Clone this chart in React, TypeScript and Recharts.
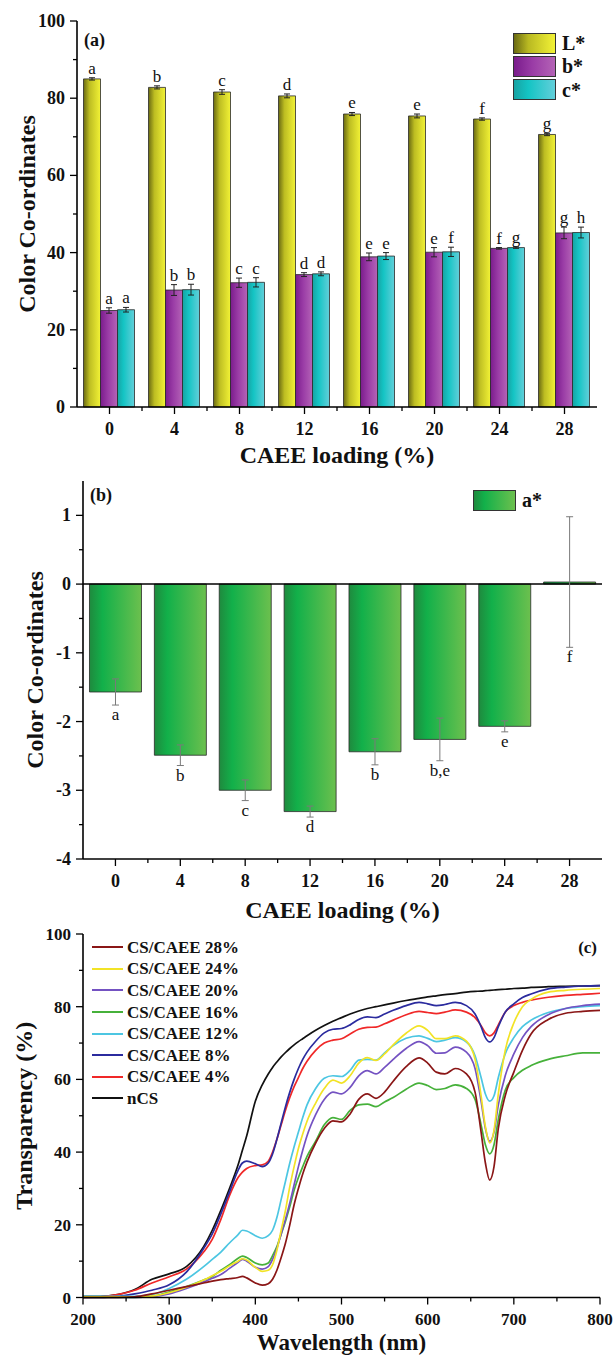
import React from "react";
import {
  BarChart,
  Bar,
  LineChart,
  Line,
  XAxis,
  YAxis,
  ErrorBar,
  LabelList,
  Legend,
  ReferenceLine,
} from "recharts";

const FONT = "'Liberation Serif', 'Times New Roman', serif";
const W = 614;

// ---- (a) L*, b*, c* vs CAEE loading
const loadings = ["0", "4", "8", "12", "16", "20", "24", "28"];
const lStar = [85.0, 82.8, 81.6, 80.6, 75.9, 75.4, 74.6, 70.6];
const lStarErr = [0.3, 0.4, 0.6, 0.5, 0.4, 0.5, 0.3, 0.3];
const lStarLetters = ["a", "b", "c", "d", "e", "e", "f", "g"];
const bStar = [25.0, 30.3, 32.2, 34.3, 38.9, 40.1, 41.1, 45.1];
const bStarErr = [0.7, 1.4, 1.2, 0.5, 1.0, 1.2, 0.2, 1.5];
const bStarLetters = ["a", "b", "c", "d", "e", "e", "f", "g"];
const cStar = [25.2, 30.4, 32.3, 34.5, 39.1, 40.2, 41.3, 45.2];
const cStarErr = [0.6, 1.4, 1.2, 0.5, 0.9, 1.2, 0.2, 1.4];
const cStarLetters = ["a", "b", "c", "d", "e", "f", "g", "h"];

// ---- (b) a*
const aStar = [-1.57, -2.49, -3.0, -3.31, -2.44, -2.26, -2.07, 0.03];
const aStarErr = [0.19, 0.15, 0.15, 0.08, 0.19, 0.31, 0.08, 0.95];
const aStarLetters = ["a", "b", "c", "d", "b", "b,e", "e", "f"];

// ---- (c) transparency spectra
const wavelengths = [
  200, 220, 240, 260, 280, 300, 320, 340, 350, 360, 370, 380, 385, 390, 400,
  408, 415, 420, 425, 430, 435, 440, 445, 450, 455, 460, 470, 480, 490, 500,
  510, 520, 530, 540, 550, 560, 575, 590, 600, 610, 620, 632, 645, 655, 662,
  667, 672, 677, 682, 690, 700, 710, 720, 740, 760, 780, 800,
];
const nCS = [
  0.3, 0.3, 0.8, 2.2, 5, 6.5, 8.5, 14, 18.5, 24, 30, 36.5, 40.5, 44.5, 54,
  58.5, 61.5, 63.3, 64.8, 66.2, 67.4, 68.5, 69.5, 70.4, 71.2, 72, 73.5, 74.8, 76, 77,
  78, 78.8, 79.5, 80, 80.5, 81, 81.7, 82.3, 82.7, 83, 83.3, 83.6, 84, 84.2, 84.3,
  84.4, 84.5, 84.6, 84.7, 84.8, 85, 85.1, 85.3, 85.5, 85.6, 85.7, 85.8,
];
const cs4 = [
  0, 0.2, 0.8, 2, 4, 5.7, 7.8, 12.5, 16, 21.5, 28, 33, 34.5, 35.5, 36.3,
  36.5, 37.5, 40, 43.5, 47.5, 51.5, 55, 58, 60.5, 63, 65, 68, 70, 70.8, 71.2,
  72.5, 73.8, 74.3, 74.4, 75.3, 76.3, 77.8, 78.7, 78.4, 78.1, 78.5, 79.1, 78.5, 77, 74.8,
  72.8, 72, 72.8, 75, 78.5, 80.3, 81.2, 81.8, 82.6, 83.1, 83.4, 83.7,
];
const cs8 = [
  0, 0, 0.3, 1, 2, 3.5, 7, 13.5, 17.5, 23, 29, 35, 37, 37.5, 36.8,
  36, 37, 39.5, 43.5, 48, 52.5, 56.5, 60, 63, 65.5, 67.5, 70.5, 72.8, 73.8, 74,
  75, 76.5, 77.2, 77, 78, 79, 80.3, 81.2, 80.8, 80.3, 80.6, 81.2, 80.3, 78, 74.5,
  71.5, 70.3, 71.5, 74.5, 78.5, 80.8, 82.5, 83.5, 84.9, 85.4, 85.7, 85.8,
];
const cs12 = [
  0.3, 0.3, 0.3, 0.3, 0.8, 2.5, 5, 8.5, 10.5, 12.5, 15, 17.3, 18.5, 18.3, 17,
  16.3, 17, 18.5, 22, 27, 32, 37, 41.5, 45.5, 49.5, 53, 57.5, 60.3, 61, 60.8,
  62.5, 65.3, 65.5, 65.3, 67.3, 69.3, 71.3, 72, 71.3, 70.4, 70.8, 71.5, 70.3, 66.5, 60.5,
  56, 54, 55.5, 60.5, 67, 71.5, 74.5, 76.3, 78.4, 79.5, 80, 80.3,
];
const cs16 = [
  0, 0, 0, 0, 0.3, 1.5, 3, 4.8, 5.8, 7.5, 9, 10.8, 11.4, 11, 9.5,
  9, 9.5, 11.5, 14, 17.5, 21, 25, 29.5, 33, 36, 38.8, 43, 47.5, 49.5, 49,
  51.5, 53, 53.2, 52.5, 53.8, 55, 57.3, 59, 58.3, 57.2, 57.5, 58.5, 57.5, 54.5, 47.5,
  42, 39.5, 42, 49, 57, 60.5, 62.5, 63.8, 65.5, 66.5, 67.3, 67.3,
];
const cs20 = [
  0, 0, 0, 0, 0.2, 1, 2.5, 4.3, 5.3, 6.3, 8, 9.7, 10.5, 10, 8.3,
  7.8, 8.5, 10.5, 13.5, 17.5, 21.5, 26, 31, 36, 40.5, 44.5, 50.3, 54.5, 56.5, 56,
  57.8, 61, 62.4, 61.5, 63.3, 65.5, 68.5, 70.4, 69.3, 67.2, 67.3, 68.9, 67.5, 63, 54,
  46.5, 43, 45.5, 53, 61, 67, 71.5, 74.5, 77.8, 79.5, 80.3, 80.7,
];
const cs24 = [
  0.2, 0.2, 0.2, 0.2, 0.4, 1.3, 2.8, 4.8, 6, 7.2, 8.7, 10, 10.7, 10.3, 8.3,
  7.2, 7.5, 9, 13, 18.5, 24, 30.5, 36, 41, 45, 48.5, 53.5, 57.5, 59.8, 59,
  61, 64.5, 66, 65.2, 67, 69.5, 72.7, 74.7, 73.5, 71.2, 71.2, 72, 70.5, 65.5, 55.5,
  47, 42.5, 46, 56, 68, 75.5, 80, 82, 84, 84.5, 84.8, 85,
];
const cs28 = [
  0, 0, 0, 0.2, 1, 2, 3, 4, 4.5, 4.9, 5.2, 5.5, 5.8, 5.4, 4,
  3.4, 3.8, 5, 7.5, 11, 15, 20, 25.5, 30, 34, 37.3, 42.5, 46.5, 48.6, 48.3,
  50.5, 54.5, 56, 54.8, 56.5, 59.5, 63.5, 65.9, 64.5, 62, 61.5, 63, 61.5, 56.5, 45.5,
  37, 32.3, 36, 46.5, 55.5, 62, 68, 72.5, 76.5, 78.2, 78.7, 79,
];

const spectra = [
  { key: "cs28", name: "CS/CAEE 28%", color: "#8a1616", values: cs28 },
  { key: "cs24", name: "CS/CAEE 24%", color: "#f2e326", values: cs24 },
  { key: "cs20", name: "CS/CAEE 20%", color: "#7452c2", values: cs20 },
  { key: "cs16", name: "CS/CAEE 16%", color: "#46b13a", values: cs16 },
  { key: "cs12", name: "CS/CAEE 12%", color: "#4cc6e2", values: cs12 },
  { key: "cs8", name: "CS/CAEE 8%", color: "#2b2b9e", values: cs8 },
  { key: "cs4", name: "CS/CAEE 4%", color: "#f02828", values: cs4 },
  { key: "ncs", name: "nCS", color: "#111111", values: nCS },
];

const rowsA = loadings.map((l, i) => ({
  loading: l,
  L: lStar[i], Lerr: lStarErr[i], Llet: lStarLetters[i],
  b: bStar[i], berr: bStarErr[i], blet: bStarLetters[i],
  c: cStar[i], cerr: cStarErr[i], clet: cStarLetters[i],
}));
const rowsB = loadings.map((l, i) => ({
  loading: l, a: aStar[i], aerr: aStarErr[i], alet: aStarLetters[i],
}));
const rowsC = wavelengths.map((wl, i) => {
  const row: any = { wl };
  spectra.forEach((s) => (row[s.key] = s.values[i]));
  return row;
});

const txt = (size: number, weight = 700): React.CSSProperties => ({
  fontFamily: FONT,
  fontWeight: weight,
  fontSize: size,
  fill: "#111",
});
const AXIS = { stroke: "#000", strokeWidth: 1.6 };

// tick helpers: major ticks carry labels, minor ones only a short line
const catTick = (band: number, n: number) => (props: any) => {
  const { x, y, payload, index } = props;
  return (
    <g>
      <line x1={x} x2={x} y1={y} y2={y + 7} stroke="#000" strokeWidth={1.3} />
      {index < n - 1 && (
        <line x1={x + band / 2} x2={x + band / 2} y1={y} y2={y + 4} stroke="#000" strokeWidth={1.3} />
      )}
      <text x={x} y={y + 27.5} textAnchor="middle" style={txt(18)}>
        {payload.value}
      </text>
    </g>
  );
};
const numXTick = (majors: number[], size: number) => (props: any) => {
  const { x, y, payload } = props;
  const major = majors.includes(payload.value);
  return (
    <g>
      <line x1={x} x2={x} y1={y} y2={y + (major ? 7 : 4)} stroke="#000" strokeWidth={1.3} />
      {major && (
        <text x={x} y={y + 27} textAnchor="middle" style={txt(size)}>
          {payload.value}
        </text>
      )}
    </g>
  );
};
const numYTick = (majors: number[], size: number) => (props: any) => {
  const { x, y, payload } = props;
  const major = majors.includes(payload.value);
  return (
    <g>
      <line x1={x} x2={x - (major ? 7 : 4)} y1={y} y2={y} stroke="#000" strokeWidth={1.3} />
      {major && (
        <text x={x - 12} y={y + 6} textAnchor="end" style={txt(size)}>
          {payload.value}
        </text>
      )}
    </g>
  );
};

const letterAbove = (errs: number[], px: number) => (props: any) => {
  const vb = props.viewBox ?? props;
  const x = Number(vb.x), y = Number(vb.y), w = Number(vb.width), h = Number(vb.height);
  const top = Math.min(y, y + h);
  const e = errs[props.index] ?? 0;
  return (
    <text x={x + w / 2} y={top - e * px - 4} textAnchor="middle" style={txt(17, 400)}>
      {props.value}
    </text>
  );
};
const letterBelow = (vals: number[], errs: number[], px: number) => (props: any) => {
  const vb = props.viewBox ?? props;
  const x = Number(vb.x), y = Number(vb.y), w = Number(vb.width), h = Number(vb.height);
  const i = props.index;
  const end = vals[i] < 0 ? Math.max(y, y + h) : Math.min(y, y + h);
  return (
    <text x={x + w / 2} y={end + (errs[i] ?? 0) * px + 15} textAnchor="middle" style={txt(17, 400)}>
      {props.value}
    </text>
  );
};

const BoxLegend = ({ items }: { items: { name: string; bg: string }[] }) => (
  <div style={{ fontFamily: FONT, fontWeight: 700, fontSize: 20, color: "#111" }}>
    {items.map((it) => (
      <div key={it.name} style={{ display: "flex", alignItems: "center", height: 23.3 }}>
        <div
          style={{
            width: 43,
            height: 21,
            border: "1px solid #333",
            boxSizing: "border-box",
            background: it.bg,
          }}
        />
        <span style={{ marginLeft: 6, lineHeight: 1 }}>{it.name}</span>
      </div>
    ))}
  </div>
);

const LineLegend = () => (
  <div style={{ fontFamily: FONT, fontWeight: 700, fontSize: 17, color: "#111" }}>
    {spectra.map((s) => (
      <div key={s.key} style={{ display: "flex", alignItems: "center", height: 21.6 }}>
        <div style={{ width: 31, height: 2, background: s.color }} />
        <span style={{ marginLeft: 4, lineHeight: 1 }}>{s.name}</span>
      </div>
    ))}
  </div>
);

const gradYellow = "linear-gradient(to right, #6a6a12, #b9b922 35%, #f2f236)";
const gradPurple = "linear-gradient(to right, #7a1c8c, #9a3ca6 45%, #b463b6)";
const gradCyan = "linear-gradient(to right, #17a3a3, #14c4c4 35%, #62cfda)";
const gradGreen = "linear-gradient(to right, #1f8a3e, #12b04a 25%, #6cc04e)";

// ---- layout of panel (a)
const A = { top: 21, height: 470, axisH: 63, left: 77, right: 17 };
const A_PLOT_H = A.height - A.top - A.axisH;
const A_PX = A_PLOT_H / 100;
const A_BAND = (W - A.left - A.right) / loadings.length;
const A_CX = A.left + (W - A.left - A.right) / 2;

function PanelA() {
  return (
    <BarChart
      width={W}
      height={A.height}
      data={rowsA}
      margin={{ top: A.top, right: A.right, bottom: 0, left: 0 }}
      barCategoryGap="10%"
      barGap={0}
    >
      <defs>
        <linearGradient id="gradL" x1="0" y1="0" x2="1" y2="0">
          <stop offset="0%" stopColor="#6a6a12" />
          <stop offset="35%" stopColor="#bdbd22" />
          <stop offset="100%" stopColor="#f2f236" />
        </linearGradient>
        <linearGradient id="gradB" x1="0" y1="0" x2="1" y2="0">
          <stop offset="0%" stopColor="#7a1c8c" />
          <stop offset="45%" stopColor="#9a3ca6" />
          <stop offset="100%" stopColor="#b463b6" />
        </linearGradient>
        <linearGradient id="gradC" x1="0" y1="0" x2="1" y2="0">
          <stop offset="0%" stopColor="#17a3a3" />
          <stop offset="35%" stopColor="#14c4c4" />
          <stop offset="100%" stopColor="#62cfda" />
        </linearGradient>
      </defs>
      <XAxis
        dataKey="loading"
        height={A.axisH}
        interval={0}
        tickLine={false}
        tickSize={0}
        tickMargin={0}
        axisLine={AXIS}
        tick={catTick(A_BAND, loadings.length)}
        label={() => (
          <text x={A_CX} y={463} textAnchor="middle" style={txt(24)}>
            CAEE loading (%)
          </text>
        )}
      />
      <YAxis
        width={A.left}
        domain={[0, 100]}
        ticks={[0, 10, 20, 30, 40, 50, 60, 70, 80, 90, 100]}
        interval={0}
        tickLine={false}
        tickSize={0}
        tickMargin={0}
        axisLine={AXIS}
        tick={numYTick([0, 20, 40, 60, 80, 100], 18)}
        label={() => {
          const cy = A.top + A_PLOT_H / 2;
          return (
            <g>
              <text x={27} y={cy} transform={`rotate(-90 27 ${cy})`} textAnchor="middle" dominantBaseline="central" style={txt(24)}>
                Color Co-ordinates
              </text>
              <text x={84} y={46} style={txt(18)}>(a)</text>
            </g>
          );
        }}
      />
      <XAxis xAxisId="top" orientation="top" type="number" domain={[0, 1]} mirror height={0} tick={false} tickLine={false} axisLine={AXIS} />
      <YAxis yAxisId="right" orientation="right" type="number" domain={[0, 1]} mirror width={0} tick={false} tickLine={false} axisLine={AXIS} />
      <Legend
        layout="vertical"
        align="center"
        verticalAlign="middle"
        wrapperStyle={{ top: 31.4, left: 513, width: "auto" }}
        content={() => (
          <BoxLegend
            items={[
              { name: "L*", bg: gradYellow },
              { name: "b*", bg: gradPurple },
              { name: "c*", bg: gradCyan },
            ]}
          />
        )}
      />
      <Bar dataKey="L" name="L*" fill="url(#gradL)" stroke="#2a2a2a" strokeWidth={0.8} isAnimationActive={false}>
        <ErrorBar dataKey="Lerr" direction="y" width={3} stroke="#222" strokeWidth={1} />
        <LabelList dataKey="Llet" content={letterAbove(lStarErr, A_PX)} />
      </Bar>
      <Bar dataKey="b" name="b*" fill="url(#gradB)" stroke="#2a2a2a" strokeWidth={0.8} isAnimationActive={false}>
        <ErrorBar dataKey="berr" direction="y" width={3} stroke="#222" strokeWidth={1} />
        <LabelList dataKey="blet" content={letterAbove(bStarErr, A_PX)} />
      </Bar>
      <Bar dataKey="c" name="c*" fill="url(#gradC)" stroke="#2a2a2a" strokeWidth={0.8} isAnimationActive={false}>
        <ErrorBar dataKey="cerr" direction="y" width={3} stroke="#222" strokeWidth={1} />
        <LabelList dataKey="clet" content={letterAbove(cStarErr, A_PX)} />
      </Bar>
    </BarChart>
  );
}

// ---- layout of panel (b)
const B = { offset: 470, top: 11, height: 460, axisH: 71, left: 83, right: 12 };
const B_PLOT_H = B.height - B.top - B.axisH;
const B_PX = B_PLOT_H / 5.5;
const B_BAND = (W - B.left - B.right) / loadings.length;
const B_CX = B.left + (W - B.left - B.right) / 2;

function PanelB() {
  return (
    <BarChart
      width={W}
      height={B.height}
      data={rowsB}
      margin={{ top: B.top, right: B.right, bottom: 0, left: 0 }}
      barCategoryGap="10%"
    >
      <defs>
        <linearGradient id="gradA" x1="0" y1="0" x2="1" y2="0">
          <stop offset="0%" stopColor="#1f8a3e" />
          <stop offset="25%" stopColor="#12b04a" />
          <stop offset="100%" stopColor="#6cc04e" />
        </linearGradient>
      </defs>
      <XAxis
        dataKey="loading"
        height={B.axisH}
        interval={0}
        tickLine={false}
        tickSize={0}
        tickMargin={0}
        axisLine={AXIS}
        tick={catTick(B_BAND, loadings.length)}
        label={() => (
          <text x={B_CX} y={918 - B.offset} textAnchor="middle" style={txt(24)}>
            CAEE loading (%)
          </text>
        )}
      />
      <YAxis
        width={B.left}
        domain={[-4, 1.5]}
        ticks={[-4, -3.5, -3, -2.5, -2, -1.5, -1, -0.5, 0, 0.5, 1]}
        interval={0}
        tickLine={false}
        tickSize={0}
        tickMargin={0}
        axisLine={AXIS}
        tick={numYTick([-4, -3, -2, -1, 0, 1], 18)}
        label={() => {
          const cy = B.top + B_PLOT_H / 2;
          return (
            <g>
              <text x={35} y={cy} transform={`rotate(-90 35 ${cy})`} textAnchor="middle" dominantBaseline="central" style={txt(24)}>
                Color Co-ordinates
              </text>
              <text x={90} y={501 - B.offset} style={txt(18)}>(b)</text>
            </g>
          );
        }}
      />
      <XAxis xAxisId="top" orientation="top" type="number" domain={[0, 1]} mirror height={0} tick={false} tickLine={false} axisLine={AXIS} />
      <YAxis yAxisId="right" orientation="right" type="number" domain={[0, 1]} mirror width={0} tick={false} tickLine={false} axisLine={AXIS} />
      <ReferenceLine y={0} stroke="#000" strokeWidth={1.5} />
      <Legend
        layout="vertical"
        align="center"
        verticalAlign="middle"
        wrapperStyle={{ top: 18.4, left: 473, width: "auto" }}
        content={() => <BoxLegend items={[{ name: "a*", bg: gradGreen }]} />}
      />
      <Bar dataKey="a" name="a*" fill="url(#gradA)" stroke="#2a2a2a" strokeWidth={0.8} isAnimationActive={false}>
        <ErrorBar dataKey="aerr" direction="y" width={3.5} stroke="#7a7a7a" strokeWidth={1} />
        <LabelList dataKey="alet" content={letterBelow(aStar, aStarErr, B_PX)} />
      </Bar>
    </BarChart>
  );
}

// ---- layout of panel (c)
const C = { offset: 925, top: 9, height: 433, axisH: 60.5, left: 83, right: 14 };
const C_PLOT_H = C.height - C.top - C.axisH;
const C_CX = C.left + (W - C.left - C.right) / 2;

function PanelC() {
  return (
    <LineChart
      width={W}
      height={C.height}
      data={rowsC}
      margin={{ top: C.top, right: C.right, bottom: 0, left: 0 }}
    >
      <XAxis
        dataKey="wl"
        type="number"
        domain={[200, 800]}
        ticks={[200, 250, 300, 350, 400, 450, 500, 550, 600, 650, 700, 750, 800]}
        interval={0}
        height={C.axisH}
        tickLine={false}
        tickSize={0}
        tickMargin={0}
        axisLine={AXIS}
        tick={numXTick([200, 300, 400, 500, 600, 700, 800], 17)}
        label={() => (
          <text x={C_CX} y={1350 - C.offset} textAnchor="middle" style={txt(23)}>
            Wavelength (nm)
          </text>
        )}
      />
      <YAxis
        width={C.left}
        domain={[0, 100]}
        ticks={[0, 10, 20, 30, 40, 50, 60, 70, 80, 90, 100]}
        interval={0}
        tickLine={false}
        tickSize={0}
        tickMargin={0}
        axisLine={AXIS}
        tick={numYTick([0, 20, 40, 60, 80, 100], 17)}
        label={() => {
          const cy = C.top + C_PLOT_H / 2;
          return (
            <g>
              <text x={24} y={cy} transform={`rotate(-90 24 ${cy})`} textAnchor="middle" dominantBaseline="central" style={txt(24)}>
                Transparency (%)
              </text>
              <text x={597} y={953 - C.offset} textAnchor="end" style={txt(17)}>(c)</text>
            </g>
          );
        }}
      />
      <XAxis xAxisId="top" orientation="top" type="number" domain={[0, 1]} mirror height={0} tick={false} tickLine={false} axisLine={AXIS} />
      <YAxis yAxisId="right" orientation="right" type="number" domain={[0, 1]} mirror width={0} tick={false} tickLine={false} axisLine={AXIS} />
      <Legend
        layout="vertical"
        align="center"
        verticalAlign="middle"
        wrapperStyle={{ top: 11.5, left: 92, width: "auto" }}
        content={() => <LineLegend />}
      />
      {[...spectra].reverse().map((s) => (
        <Line
          key={s.key}
          dataKey={s.key}
          name={s.name}
          type="monotone"
          stroke={s.color}
          strokeWidth={1.7}
          dot={false}
          isAnimationActive={false}
        />
      ))}
    </LineChart>
  );
}

export default function App() {
  return (
    <div style={{ position: "relative", width: W, height: 1358, background: "#fff" }}>
      <style>{"body{margin:0}"}</style>
      <div style={{ position: "absolute", left: 0, top: 0 }}>
        <PanelA />
      </div>
      <div style={{ position: "absolute", left: 0, top: B.offset }}>
        <PanelB />
      </div>
      <div style={{ position: "absolute", left: 0, top: C.offset }}>
        <PanelC />
      </div>
    </div>
  );
}
